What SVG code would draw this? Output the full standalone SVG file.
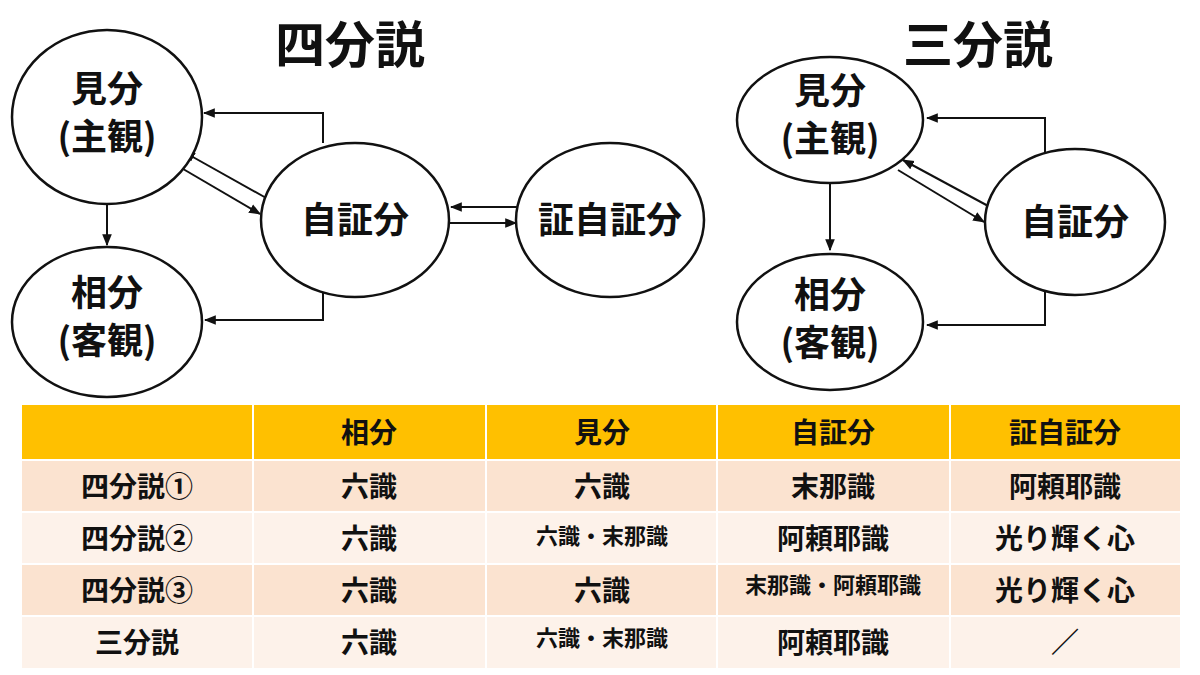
<svg xmlns="http://www.w3.org/2000/svg" width="1200" height="675" viewBox="0 0 1200 675">
<style>
text{font-family:"Noto Sans CJK JP","Noto Sans CJK SC",sans-serif;font-weight:bold;text-anchor:middle;fill:#111}
.n ellipse{fill:#fff;stroke:#111;stroke-width:2.5}
.n text{font-size:36px}
.c{fill:none;stroke:#111;stroke-width:2;marker-end:url(#a)}
.t text{font-size:28px}
.t text.s{font-size:22px}
</style>
<defs><marker id="a" viewBox="0 0 10 10" refX="9" refY="5" markerWidth="6" markerHeight="6" orient="auto"><path d="M0,1L10,5L0,9z" fill="#111"/></marker></defs>
<rect width="1200" height="675" fill="#fff"/>
<text x="350" y="63" style="font-size:50px">四分説</text>
<text x="978" y="63" style="font-size:50px">三分説</text>
<g id="conn">
<path class="c" d="M323,143V113H204"/>
<path class="c" d="M323,292V320H205"/>
<path class="c" d="M178,166L260,214"/>
<path class="c" d="M268,199L184,152"/>
<path class="c" d="M107,204V245"/>
<path class="c" d="M517,207H451"/>
<path class="c" d="M450,223H516"/>
<path class="c" d="M1045,152V118H927"/>
<path class="c" d="M1045,292V325H927"/>
<path class="c" d="M898,170L984,222"/>
<path class="c" d="M990,207L903,160"/>
<path class="c" d="M830,182V250"/>
</g>
<g id="n1" class="n"><ellipse cx="107" cy="117" rx="95" ry="87"/><text x="107" y="102">見分</text><text x="107" y="150">(主観)</text></g>
<g id="n2" class="n"><ellipse cx="107" cy="322" rx="95" ry="75"/><text x="107" y="306">相分</text><text x="107" y="354">(客観)</text></g>
<g id="n3" class="n"><ellipse cx="355" cy="220" rx="94" ry="77"/><text x="355" y="233">自証分</text></g>
<g id="n4" class="n"><ellipse cx="610" cy="220" rx="94" ry="77"/><text x="610" y="233">証自証分</text></g>
<g id="n5" class="n"><ellipse cx="830" cy="120" rx="93" ry="63"/><text x="830" y="104">見分</text><text x="830" y="152">(主観)</text></g>
<g id="n6" class="n"><ellipse cx="830" cy="322" rx="93" ry="68"/><text x="830" y="308">相分</text><text x="830" y="356">(客観)</text></g>
<g id="n7" class="n"><ellipse cx="1075" cy="222" rx="90" ry="73"/><text x="1075" y="235">自証分</text></g>
<g id="table" class="t">
<rect x="22" y="405" width="1158" height="55" fill="#FFC000"/>
<rect x="22" y="460" width="1158" height="52" fill="#FBE3D0"/>
<rect x="22" y="512" width="1158" height="52" fill="#FDF2EA"/>
<rect x="22" y="564" width="1158" height="52" fill="#FBE3D0"/>
<rect x="22" y="616" width="1158" height="52" fill="#FDF2EA"/>
<path d="M22,460H1180M22,512H1180M22,564H1180M22,616H1180M253,405V668M486,405V668M717,405V668M950,405V668" stroke="#fff" stroke-width="2"/>
<text x="369" y="443">相分</text><text x="602" y="443">見分</text><text x="833" y="443">自証分</text><text x="1065" y="443">証自証分</text>
<text x="137" y="497">四分説①</text><text x="369" y="497">六識</text><text x="602" y="497">六識</text><text x="833" y="497">末那識</text><text x="1065" y="497">阿頼耶識</text>
<text x="137" y="549">四分説②</text><text x="369" y="549">六識</text><text x="602" y="544" class="s">六識・末那識</text><text x="833" y="549">阿頼耶識</text><text x="1065" y="549">光り輝く心</text>
<text x="137" y="601">四分説③</text><text x="369" y="601">六識</text><text x="602" y="601">六識</text><text x="833" y="593" class="s">末那識・阿頼耶識</text><text x="1065" y="601">光り輝く心</text>
<text x="137" y="653">三分説</text><text x="369" y="653">六識</text><text x="602" y="646" class="s">六識・末那識</text><text x="833" y="653">阿頼耶識</text><text x="1065" y="653">／</text>
</g>
</svg>
